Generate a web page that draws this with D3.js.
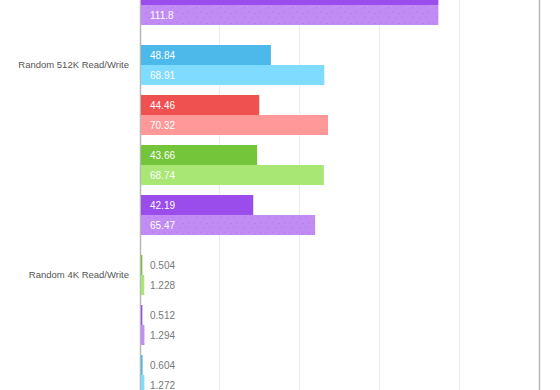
<!DOCTYPE html>
<html>
<head>
<meta charset="utf-8">
<script src="https://cdn.jsdelivr.net/npm/d3@7"></script>
<style>
  html, body { margin: 0; padding: 0; background: #fff; }
  svg { display: block; }
</style>
</head>
<body>
<svg id="chart" width="560" height="390"></svg>
<script>
// ---- data ----
// group 0 is the previous category, whose label lies above the visible area
const categories = [null, "Random 512K Read/Write", "Random 4K Read/Write"];
const rowCategory = [0, 1, 1, 1, 1, 2, 2, 2];
const rowSeries   = ["purple", "blue", "red", "green", "purple", "green", "purple", "blue"];
const readValues  = [111.8, 48.84, 44.46, 43.66, 42.19, 0.504, 0.512, 0.604];
const writeValues = [111.8, 68.91, 70.32, 68.74, 65.47, 1.228, 1.294, 1.272];
const xTicks = [0, 30, 60, 90, 120, 150];

// ---- styles ----
const readColor  = { blue: "#4db9ea", red: "#ef5050", green: "#74c53a", purple: "#9b4deb" };
const writeColor = { blue: "#7fdbff", red: "#ff9999", green: "#a8e774", purple: "#c28cf5" };

const svg = d3.select("#chart");
const x = d3.scaleLinear().domain([0, 150]).range([140.5, 539.5]);
const rowY = d3.scaleLinear().domain([0, 1]).range([-15, 35]); // 50px per row
const groupGap = 10, barH = 20;
const yOf = i => rowY(i) + rowCategory[i] * groupGap;

// dot pattern for purple write bars
const defs = svg.append("defs");
const pat = defs.append("pattern").attr("id", "dots").attr("patternUnits", "userSpaceOnUse")
  .attr("width", 24).attr("height", 10);
pat.append("rect").attr("width", 24).attr("height", 10).attr("fill", writeColor.purple);
[[2,3],[9,2],[15,3.5],[21,2.5],[5,7.5],[12,8],[18,7]].forEach(([cx, cy]) =>
  pat.append("circle").attr("cx", cx).attr("cy", cy).attr("r", 0.55).attr("fill", "#a86ee2"));

// gridlines
svg.append("g").selectAll("line").data(xTicks).join("line")
  .attr("x1", d => Math.round(x(d)) - 0.5).attr("x2", d => Math.round(x(d)) - 0.5)
  .attr("y1", 0).attr("y2", 390)
  .attr("stroke", d => (d === 0 || d === 150) ? "#b8b8b8" : "#ebebeb")
  .attr("stroke-width", d => (d === 0 || d === 150) ? 1.5 : 1);

const rows = readValues.map((r, i) => ({ i, r, w: writeValues[i], s: rowSeries[i] }));
const g = svg.append("g");

function drawBars(key, offset, colors, patterned) {
  g.selectAll("rect." + key).data(rows).join("rect").attr("class", key)
    .attr("x", x(0) + 0.5)
    .attr("y", d => yOf(d.i) + offset)
    .attr("width", d => Math.max(1, x(d[key]) - x(0)))
    .attr("height", barH)
    .attr("fill", d => (patterned && d.s === "purple") ? "url(#dots)" : colors[d.s]);
  g.selectAll("text." + key).data(rows.filter(d => yOf(d.i) + offset >= 0)).join("text").attr("class", key)
    .attr("x", x(0) + 9.5)
    .attr("y", d => yOf(d.i) + offset + barH / 2)
    .attr("dy", "0.35em")
    .attr("font-family", "Liberation Sans, Arial, Helvetica, sans-serif")
    .attr("font-size", 10)
    .attr("fill", d => (x(d[key]) - x(0) > 40) ? "#ffffff" : "#777777")
    .text(d => String(d[key]));
}
drawBars("r", 0, readColor, false);
drawBars("w", barH, writeColor, true);

// category labels at the first row of each group
const labels = categories.map((c, ci) => ({ c, i: rowCategory.indexOf(ci) })).filter(d => d.c);
svg.append("g").selectAll("text").data(labels).join("text")
  .attr("x", 129)
  .attr("y", d => yOf(d.i) + barH)
  .attr("dy", "0.35em")
  .attr("text-anchor", "end")
  .attr("font-family", "Liberation Sans, Arial, Helvetica, sans-serif")
  .attr("font-size", 9.5)
  .attr("fill", "#555555")
  .text(d => d.c);
</script>
</body>
</html>
